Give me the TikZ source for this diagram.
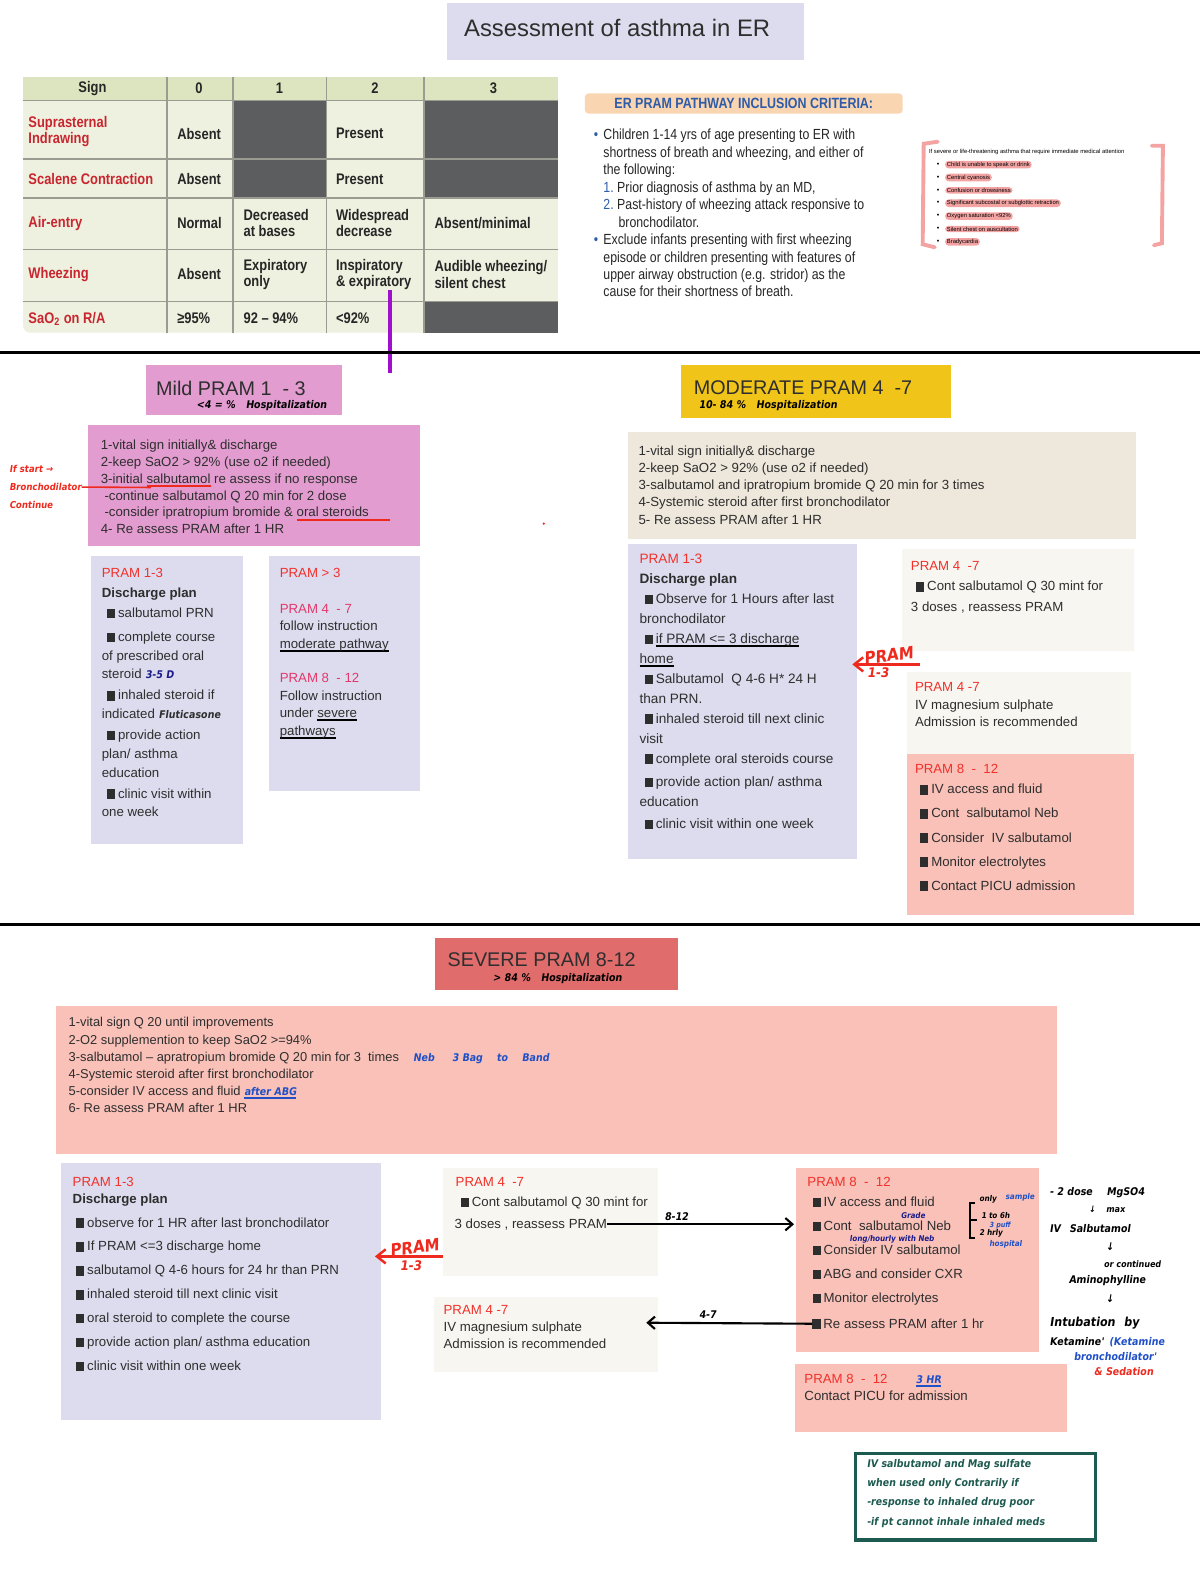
\documentclass[tikz,border=0pt]{standalone}
\usepackage{fontspec}
\setmainfont{Liberation Sans}
\newfontfamily\cond[FakeStretch=0.84]{Liberation Sans}
\newfontfamily\hand[FakeSlant=0.15,FakeStretch=0.9]{DejaVu Sans}
\usetikzlibrary{arrows.meta,calc}
\definecolor{titlebg}{HTML}{DCDCEE}
\definecolor{lav}{HTML}{DCDCEE}
\definecolor{mildpink}{HTML}{E39CD0}
\definecolor{modyellow}{HTML}{F0C418}
\definecolor{beige}{HTML}{EEE7DB}
\definecolor{offwhite}{HTML}{F8F6F1}
\definecolor{salmon}{HTML}{F9C1B8}
\definecolor{sevred}{HTML}{E06C6B}
\definecolor{tablebg}{HTML}{EEF1DF}
\definecolor{tablehead}{HTML}{DDE4C0}
\definecolor{cellgrey}{HTML}{5B5D5E}
\definecolor{gridgrey}{HTML}{9A9C92}
\definecolor{signred}{HTML}{C9252F}
\definecolor{peach}{HTML}{F9D5B2}
\definecolor{critblue}{HTML}{2E5CA8}
\definecolor{pramred}{HTML}{F2312B}
\definecolor{prampink}{HTML}{E4386B}
\definecolor{penred}{HTML}{EE2A1E}
\definecolor{purpleink}{HTML}{A010CC}
\definecolor{penblue}{HTML}{2050C8}
\definecolor{navyink}{HTML}{1C1C8C}
\definecolor{tealink}{HTML}{1D5A50}
\definecolor{pinkhl}{HTML}{F4A3A3}
\definecolor{inkgrey}{HTML}{2E2E2E}
\newsavebox\ulbox
\newcommand{\hul}[2][black]{\sbox\ulbox{#2}\rlap{\textcolor{#1}{\rule[-2pt]{\wd\ulbox}{1.1pt}}}\usebox\ulbox}
\newcommand{\bsq}{\rule[-0.4pt]{4.6pt}{5.4pt}\hspace{1.6pt}}
\newcommand{\scrawlfont}{\hand\bfseries\fontsize{6}{7}\selectfont}

\begin{document}
\begin{tikzpicture}[x=0.02cm,y=-0.02cm,
  txt/.style={anchor=north west,inner sep=0pt,align=left,text=inkgrey,font=\fontsize{7.5}{9.6}\selectfont},
  subtxt/.style={txt,font=\fontsize{7.5}{10.6}\selectfont},
  head/.style={anchor=west,inner sep=0pt,text=inkgrey,font=\fontsize{11.2}{13}\selectfont},
  scrawl/.style={anchor=west,inner sep=0pt,font=\scrawlfont},
  bigscrawl/.style={inner sep=0pt,text=penred,font=\hand\bfseries\fontsize{9.5}{10}\selectfont},
  cell/.style={anchor=west,inner sep=0pt,align=left,text=black!85,font=\cond\bfseries\fontsize{8.7}{9.4}\selectfont},
  hilite/.style={anchor=west,fill=pinkhl,rounded corners=2pt,inner xsep=1pt,inner ysep=0.6pt,font=\fontsize{3.3}{4}\selectfont},
  penarrow/.style={-{Straight Barb[length=5pt,width=8pt]},line width=1.4pt,draw=penred},
  inkarrow/.style={-{Straight Barb[length=4pt,width=7pt]},line width=1.2pt},
]
\fill[white] (0,0) rectangle (1194,1568);
\useasboundingbox (0,0) rectangle (1194,1568);

\fill[titlebg] (445,3) rectangle (800,60);
\node[text=inkgrey,font=\fontsize{13.5}{15}\selectfont] (title) at (614,28) {Assessment of asthma in ER};

\fill[tablebg,rounded corners=4pt] (23,77) rectangle (555,331);
\fill[tablehead] (23,77) rectangle (555,100);
\foreach \a/\b/\c/\d in {232/100/325/158,422/100/555/158,232/158/325/197,422/158/555/197,422/300/555/331}
  \fill[cellgrey] (\a,\b) rectangle (\c,\d);
\foreach \yy in {100,158,197,248,300}
  \draw[gridgrey,line width=0.8pt] (23,\yy) -- (555,\yy);
\foreach \xx in {166,232,325,422}
  \draw[gridgrey,line width=0.8pt] (\xx,77) -- (\xx,331);
\foreach \t/\xx [count=\i] in {Sign/92,0/198,1/278,2/373,3/491}
  \node[cell,anchor=center] (hd\i) at (\xx,88) {\t};
\foreach \yy/\t [count=\r] in {131/{Suprasternal\\Indrawing},178/{Scalene Contraction},222/{Air-entry},273/{Wheezing},317/{SaO\textsubscript{2} on R/A}}
  \node[cell,text=signred] (sign\r) at (28,\yy) {\t};
\foreach \yy/\t [count=\r] in {133/Absent,178/Absent,222/Normal,273/Absent,317/{≥95\%}}
  \node[cell] (zero\r) at (176,\yy) {\t};
\foreach \yy/\t [count=\r] in {222/{Decreased\\at bases},273/{Expiratory\\only},317/{92 – 94\%}}
  \node[cell] (one\r) at (242,\yy) {\t};
\foreach \yy/\t [count=\r] in {133/Present,178/Present,222/{Widespread\\decrease},273/{Inspiratory\\\& expiratory},317/{<92\%}}
  \node[cell] (two\r) at (334,\yy) {\t};
\foreach \yy/\t [count=\r] in {222/{Absent/minimal},273/{Audible wheezing/\\silent chest}}
  \node[cell] (three\r) at (432,\yy) {\t};
\coordinate (purpleend) at (388,371);
\draw[purpleink,line width=2pt] (two4.south east -| purpleend) -- (purpleend);

\fill[peach,rounded corners=2pt] (582,93) rectangle (898,113);
\node[font=\cond\bfseries\fontsize{8.4}{9}\selectfont,text=critblue] (crithead) at (740,103) {ER PRAM PATHWAY INCLUSION CRITERIA:};
\node[txt,text=black!85,font=\cond\fontsize{8.3}{9.9}\selectfont] (critlist) at (600,128) {\llap{\textcolor{critblue}{\textbullet}\hspace{3pt}}Children 1-14 yrs of age presenting to ER with\\
shortness of breath and wheezing, and either of\\
the following:\\
\textcolor{critblue}{1.}\hspace{2pt}Prior diagnosis of asthma by an MD,\\
\textcolor{critblue}{2.}\hspace{2pt}Past-history of wheezing attack responsive to\\
\hspace*{8.6pt}bronchodilator.\\
\llap{\textcolor{critblue}{\textbullet}\hspace{3pt}}Exclude infants presenting with first wheezing\\
episode or children presenting with features of\\
upper airway obstruction (e.g. stridor) as the\\
cause for their shortness of breath.};

\draw[pinkhl,line width=2.2pt,line cap=round] (933,141) -- (919,143) -- (918,243) -- (930,246);
\draw[pinkhl,line width=2.2pt,line cap=round] (1146,145) -- (1157,145) -- (1156,242) -- (1148,244);
\node[anchor=west,inner sep=0pt,font=\fontsize{3.3}{4}\selectfont] (lifethreat) at (924,151) {If severe or life-threatening asthma that require immediate medical attention};
\foreach \t [count=\i] in {Child is unable to speak or drink,Central cyanosis,Confusion or drowsiness,Significant subcostal or subglottic retraction,Oxygen saturation <92\%,Silent chest on auscultation,Bradycardia}{
  \node[hilite] (danger\i) at (940,{151+12.8*\i}) {\t};
  \node[anchor=east,inner sep=0pt,font=\fontsize{4}{4}\selectfont] (dot\i) at (935,{151+12.8*\i}) {\textbullet};
}

\draw[line width=1.5pt] (0,351) -- (1194,351);
\draw[line width=1.5pt] (0,920) -- (1194,920);

\fill[mildpink] (145,363) rectangle (340,413);
\node[head] (mildhead) at (155,386) {Mild PRAM 1 \ - 3};
\node[scrawl] (mildrate) at (195,404) {<4 = \%\quad Hospitalization};
\fill[mildpink] (88,423) rectangle (418,543);
\node[txt] (mildsteps) at (100,437) {1-vital sign initially\& discharge\\
2-keep SaO2 > 92\% (use o2 if needed)\\
3-initial \hul[penred]{salbutamol} re assess if no response\\
\ -continue salbutamol Q 20 min for 2 dose\\
\ -consider ipratropium bromide \& \hul[penred]{oral steroids\hspace{12pt}}\\
4- Re assess PRAM after 1 HR};
\node[anchor=north west,inner sep=0pt,align=left,text=penred,font=\hand\bfseries\fontsize{5.4}{10}\selectfont] (mildnote) at (9,463) {If start →\\Bronchodilator\\Continue};
\coordinate (salbul) at (150,485);
\draw[penred,line width=0.9pt] (mildnote.east) -- (salbul);
\fill[penred] (541,521) circle (1.2);

\fill[lav] (91,553) rectangle (242,840);
\node[subtxt] (mildlow) at (101,565) {\textcolor{pramred}{PRAM 1-3}\\[0.7pt]
\textbf{Discharge plan}\\[0.7pt]
\hspace*{3pt}\bsq salbutamol PRN\\[3pt]
\hspace*{3pt}\bsq complete course\\
of prescribed oral\\
steroid {\scrawlfont\color{navyink}3-5 D}\\[1.3pt]
\hspace*{3pt}\bsq inhaled steroid if\\
indicated {\scrawlfont Fluticasone}\\[1.3pt]
\hspace*{3pt}\bsq provide action\\
plan/ asthma\\
education\\[1.3pt]
\hspace*{3pt}\bsq clinic visit within\\
one week};
\fill[lav] (268,553) rectangle (418,787);
\node[subtxt,font=\fontsize{7.5}{9.9}\selectfont] (mildhigh) at (278,565) {\textcolor{pramred}{PRAM > 3}\\[10.5pt]
\textcolor{prampink}{PRAM 4 \ - 7}\\
follow instruction\\
\hul{moderate pathway}\\[9.4pt]
\textcolor{prampink}{PRAM 8 \ - 12}\\
Follow instruction\\
under \hul{severe}\\
\hul{pathways}};

\fill[modyellow] (678,363) rectangle (946,416);
\node[head] (modhead) at (690,386) {MODERATE PRAM 4 \ -7};
\node[scrawl] (modrate) at (695,404) {10- 84 \%\quad Hospitalization};
\fill[beige] (625,430) rectangle (1130,536);
\node[txt,font=\fontsize{7.5}{9.75}\selectfont] (modsteps) at (635,443) {1-vital sign initially\& discharge\\
2-keep SaO2 > 92\% (use o2 if needed)\\
3-salbutamol and ipratropium bromide Q 20 min for 3 times\\
4-Systemic steroid after first bronchodilator\\
5- Re assess PRAM after 1 HR};

\fill[lav] (625,541) rectangle (853,855);
\node[subtxt,font=\fontsize{7.7}{11.3}\selectfont] (modlow) at (636,551) {\textcolor{pramred}{PRAM 1-3}\\
\textbf{Discharge plan}\\
\hspace*{3pt}\bsq Observe for 1 Hours after last\\
bronchodilator\\
\hspace*{3pt}\bsq\hul{if PRAM <= 3 discharge}\\
\hul{home}\\
\hspace*{3pt}\bsq Salbutamol \ Q 4-6 H* 24 H\\
than PRN.\\
\hspace*{3pt}\bsq inhaled steroid till next clinic\\
visit\\
\hspace*{3pt}\bsq complete oral steroids course\\[2pt]
\hspace*{3pt}\bsq provide action plan/ asthma\\
education\\[1pt]
\hspace*{3pt}\bsq clinic visit within one week};
\fill[offwhite] (897,546) rectangle (1128,648);
\node[txt,font=\fontsize{7.5}{11.6}\selectfont] (modmid) at (906,558) {\textcolor{pramred}{PRAM 4 \ -7}\\
\hspace*{3pt}\bsq Cont salbutamol Q 30 mint for\\
3 doses , reassess PRAM};
\fill[offwhite] (902,669) rectangle (1125,750);
\node[txt,font=\fontsize{7.5}{9.9}\selectfont] (modmag) at (910,679) {\textcolor{pramred}{PRAM 4 -7}\\
IV magnesium sulphate\\
Admission is recommended};
\fill[salmon] (902,750) rectangle (1128,910);
\node[txt] (modhigh) at (910,760) {\textcolor{pramred}{PRAM 8 \ - \ 12}\\[2pt]
\hspace*{3pt}\bsq IV access and fluid\\[4pt]
\hspace*{3pt}\bsq Cont \ salbutamol Neb\\[4pt]
\hspace*{3pt}\bsq Consider \ IV salbutamol\\[4pt]
\hspace*{3pt}\bsq Monitor electrolytes\\[4pt]
\hspace*{3pt}\bsq Contact PICU admission};
\coordinate (modpenS) at (915,661);
\coordinate (modpenE) at (848,661);
\draw[penarrow] (modpenS) -- (modpenE)
  node[bigscrawl,pos=0.45,above=1pt,rotate=8] {PRAM}
  node[bigscrawl,pos=0.62,below=1pt,font=\hand\bfseries\fontsize{7.5}{8}\selectfont] {1-3};

\fill[sevred] (433,933) rectangle (675,985);
\node[head] (sevhead) at (445,955) {SEVERE PRAM 8-12};
\node[scrawl] (sevrate) at (490,974) {> 84 \%\quad Hospitalization};
\fill[salmon] (56,1001) rectangle (1052,1148);
\node[txt,font=\fontsize{7.3}{9.75}\selectfont] (sevsteps) at (68,1012) {1-vital sign Q 20 until improvements\\
2-O2 supplemention to keep SaO2 >=94\%\\
3-salbutamol – apratropium bromide Q 20 min for 3 \ times\hspace{8pt}{\scrawlfont\color{penblue}Neb\hspace{10pt}3 Bag\hspace{8pt}to\hspace{8pt}Band}\\
4-Systemic steroid after first bronchodilator\\
5-consider IV access and fluid {\scrawlfont\color{penblue}\hul[penblue]{after ABG}}\\
6- Re assess PRAM after 1 HR};

\fill[lav] (61,1157) rectangle (379,1413);
\node[subtxt,font=\fontsize{7.5}{9.35}\selectfont] (sevlow) at (72,1171) {\textcolor{pramred}{PRAM 1-3}\\
\textbf{Discharge plan}\\[4.2pt]
\hspace*{2pt}\bsq observe for 1 HR after last bronchodilator\\[4.2pt]
\hspace*{2pt}\bsq If PRAM <=3 discharge home\\[4.2pt]
\hspace*{2pt}\bsq salbutamol Q 4-6 hours for 24 hr than PRN\\[4.2pt]
\hspace*{2pt}\bsq inhaled steroid till next clinic visit\\[4.2pt]
\hspace*{2pt}\bsq oral steroid to complete the course\\[4.2pt]
\hspace*{2pt}\bsq provide action plan/ asthma education\\[4.2pt]
\hspace*{2pt}\bsq clinic visit within one week};
\coordinate (sevpenS) at (462,1250);
\coordinate (sevpenE) at (373,1250);
\draw[penarrow] (sevpenS) -- (sevpenE)
  node[bigscrawl,pos=0.55,above=1pt,rotate=8] {PRAM}
  node[bigscrawl,pos=0.6,below=2pt,font=\hand\bfseries\fontsize{7.5}{8}\selectfont] {1-3};

\fill[offwhite] (441,1162) rectangle (655,1270);
\node[txt,font=\fontsize{7.5}{11.3}\selectfont] (sevmid) at (453,1171) {\textcolor{pramred}{PRAM 4 \ -7}\\
\hspace*{3pt}\bsq Cont salbutamol Q 30 mint for};
\node[txt,anchor=west] (sevmidend) at (452,1218) {3 doses , reassess PRAM};
\fill[offwhite] (432,1290) rectangle (655,1365);
\node[txt] (sevmag) at (441,1298) {\textcolor{pramred}{PRAM 4 -7}\\
IV magnesium sulphate\\
Admission is recommended};
\fill[salmon] (792,1162) rectangle (1034,1345);
\node[txt] (sevhigh) at (803,1171) {\textcolor{pramred}{PRAM 8 \ - \ 12}\\[1.7pt]
\hspace*{3pt}\bsq IV access and fluid\\[4pt]
\hspace*{3pt}\bsq Cont \ salbutamol Neb\\[4pt]
\hspace*{3pt}\bsq Consider IV salbutamol\\[4pt]
\hspace*{3pt}\bsq ABG and consider CXR\\[4pt]
\hspace*{3pt}\bsq Monitor electrolytes};
\node[txt,anchor=west] (sevreas) at (808,1317) {\bsq Re assess PRAM after 1 hr};
\fill[salmon] (791,1357) rectangle (1062,1425);
\node[txt] (sevpicu) at (800,1367) {\textcolor{pramred}{PRAM 8 \ - \ 12}\hspace{16pt}{\scrawlfont\color{penblue}\hul[penblue]{3 HR}}\\
Contact PICU for admission};

\coordinate (sevhighin) at (790,1218);
\draw[inkarrow] (sevmidend.east) -- (sevhighin)
  node[pos=0.37,above,inner sep=1.5pt,font=\scrawlfont] {8-12};
\coordinate (sevmagin) at (643,1316);
\draw[inkarrow] (sevreas.west) -- (sevmagin)
  node[pos=0.63,above,inner sep=2pt,font=\scrawlfont] {4-7};

\node[scrawl,text=navyink,font=\hand\bfseries\fontsize{4.5}{5}\selectfont] (grade) at (896,1209) {Grade};
\node[scrawl,text=navyink,font=\hand\bfseries\fontsize{4.5}{5}\selectfont] (hourly) at (845,1233) {long/hourly with Neb};
\draw[line width=1.2pt] (970,1197) -- (965,1197) -- (965,1232) -- (970,1232);
\draw[line width=1.2pt] (965,1214) -- (972,1214);
\node[scrawl,font=\hand\bfseries\fontsize{4.5}{5}\selectfont] (everya) at (974,1193) {only};
\node[scrawl,text=penblue,font=\hand\bfseries\fontsize{4.5}{5}\selectfont] (everyb) at (1000,1191) {sample};
\node[scrawl,font=\hand\bfseries\fontsize{4.5}{5}\selectfont] (everyc) at (976,1209) {1 to 6h};
\node[scrawl,text=penblue,font=\hand\bfseries\fontsize{4}{5}\selectfont] (everyd) at (984,1219) {3 puff};
\node[scrawl,font=\hand\bfseries\fontsize{4.5}{5}\selectfont] (everye) at (974,1227) {2 hrly};
\node[scrawl,text=penblue,font=\hand\bfseries\fontsize{4.5}{5}\selectfont] (everyf) at (984,1238) {hospital};

\node[scrawl] (notemg) at (1044,1187) {- 2 dose\hspace{8pt}MgSO4};
\node[scrawl,font=\hand\bfseries\fontsize{5}{6}\selectfont] (notemax) at (1083,1203) {↓\hspace{6pt}max};
\node[scrawl] (noteiv) at (1044,1222) {IV\hspace{5pt}Salbutamol};
\node[scrawl] (notedown) at (1100,1240) {↓};
\node[scrawl,font=\hand\bfseries\fontsize{5}{6}\selectfont] (noteor) at (1098,1258) {or continued};
\node[scrawl] (noteamino) at (1063,1274) {Aminophylline};
\node[scrawl] (notedownb) at (1100,1292) {↓};
\node[scrawl,font=\hand\bfseries\fontsize{7}{8}\selectfont] (noteint) at (1044,1316) {Intubation\hspace{5pt}by};
\node[scrawl] (noteket) at (1044,1335) {Ketamine'\hspace{3pt}{\color{penblue}(Ketamine}};
\node[scrawl,text=penblue] (notebd) at (1068,1350) {bronchodilator'};
\node[scrawl,text=penred] (notesed) at (1088,1365) {\& Sedation};

\draw[tealink,line width=2pt] (851,1446) rectangle (1090,1532);
\node[anchor=north west,inner sep=0pt,align=left,text=tealink,font=\hand\bfseries\fontsize{6}{10.8}\selectfont] (ivnote) at (862,1452) {IV salbutamol and Mag sulfate\\
when used only Contrarily if\\
-response to inhaled drug poor\\
-if pt cannot inhale inhaled meds};
\end{tikzpicture}
\end{document}
